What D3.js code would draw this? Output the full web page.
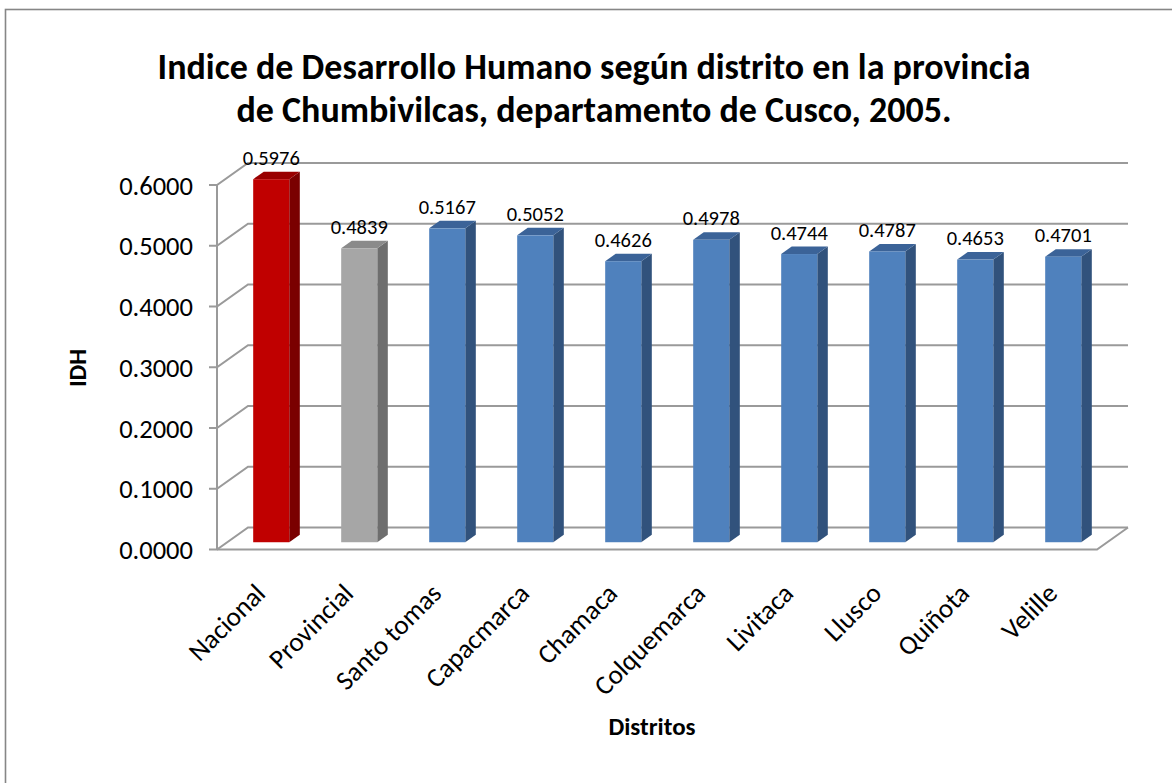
<!DOCTYPE html>
<html>
<head>
<meta charset="utf-8">
<script src="https://cdn.jsdelivr.net/npm/d3@7"></script>
<style>
  body { margin: 0; background: #fff; }
  svg { font-family: Calibri, Carlito, Lato, sans-serif; }
</style>
</head>
<body>
<div id="chart"></div>
<script>
var distritos = ['Nacional', 'Provincial', 'Santo tomas', 'Capacmarca', 'Chamaca',
                 'Colquemarca', 'Livitaca', 'Llusco', 'Quiñota', 'Velille'];
var idh = [0.5976, 0.4839, 0.5167, 0.5052, 0.4626, 0.4978, 0.4744, 0.4787, 0.4653, 0.4701];
var yTicks = [0, 0.1, 0.2, 0.3, 0.4, 0.5, 0.6];
var titleLines = ['Indice de Desarrollo Humano según distrito en la provincia',
                  'de Chumbivilcas, departamento de Cusco, 2005.'];

var width = 1172, height = 783;

// 3d depth of the plot box (offset of the back wall from the front plane)
var depthX = 31, depthY = -22;
var barFront = 0.33, barBack = 0.67;

// face colours per bar: [front, side, top]
var faceColors = {
  red:  ['#c00000', '#7a0000', '#990000'],
  gray: ['#a6a6a6', '#6e6e6e', '#8a8a8a'],
  blue: ['#4f81bd', '#31527c', '#3b6398']
};
function barColors(i) {
  if (i === 0) return faceColors.red;
  if (i === 1) return faceColors.gray;
  return faceColors.blue;
}

var svg = d3.select('#chart').append('svg')
  .attr('width', width)
  .attr('height', height);

// chart frame
svg.append('rect')
  .attr('x', 5.5).attr('y', 9.5)
  .attr('width', 1200).attr('height', 800)
  .attr('fill', 'none')
  .attr('stroke', '#868686')
  .attr('stroke-width', 1.6);

var x = d3.scaleBand()
  .domain(distritos)
  .range([217, 1097])
  .paddingInner(0.59)
  .paddingOuter(0.295);

var y = d3.scaleLinear()
  .domain([0, 0.6])
  .range([549.5, 185]);

var x0 = x.range()[0], x1 = x.range()[1];

// gridlines on the back wall + diagonal links to the front axis
var grid = svg.append('g')
  .attr('stroke', '#9a9a9a')
  .attr('stroke-width', 2)
  .attr('fill', 'none');

grid.selectAll('path.grid')
  .data(yTicks)
  .enter().append('path')
  .attr('class', 'grid')
  .attr('d', function(d) {
    var yy = y(d);
    return 'M' + (x0 - 8) + ',' + yy + 'H' + x0 +
      'L' + (x0 + depthX) + ',' + (yy + depthY) +
      'H' + (x1 + depthX);
  });

// floor front edge and right edge
grid.append('path')
  .attr('d', 'M' + x0 + ',' + y(0) + 'H' + x1 +
    'L' + (x1 + depthX) + ',' + (y(0) + depthY));

// vertical axis line
grid.append('path')
  .attr('d', 'M' + x0 + ',' + y(0.6) + 'V' + y(0));

// y tick labels
svg.append('g').selectAll('text')
  .data(yTicks)
  .enter().append('text')
  .attr('x', 193)
  .attr('y', function(d) { return y(d); })
  .attr('dy', '0.36em')
  .attr('text-anchor', 'end')
  .attr('font-size', 26.5)
  .attr('fill', '#000')
  .text(function(d) { return d3.format('.4f')(d); });

// bars
var bw = x.bandwidth();
var fdx = barFront * depthX, fdy = barFront * depthY;
var bdx = (barBack - barFront) * depthX, bdy = (barBack - barFront) * depthY;

var bars = svg.append('g').selectAll('g')
  .data(idh)
  .enter().append('g');

bars.each(function(d, i) {
  var g = d3.select(this);
  var cols = barColors(i);
  var left = x(distritos[i]) + fdx;
  var right = left + bw;
  var top = y(d) + fdy;
  var bottom = y(0) + fdy;

  // side
  g.append('path')
    .attr('d', 'M' + right + ',' + top +
      'L' + (right + bdx) + ',' + (top + bdy) +
      'L' + (right + bdx) + ',' + (bottom + bdy) +
      'L' + right + ',' + bottom + 'Z')
    .attr('fill', cols[1]);
  // top
  g.append('path')
    .attr('d', 'M' + left + ',' + top +
      'L' + (left + bdx) + ',' + (top + bdy) +
      'L' + (right + bdx) + ',' + (top + bdy) +
      'L' + right + ',' + top + 'Z')
    .attr('fill', cols[2]);
  // front
  g.append('rect')
    .attr('x', left)
    .attr('y', top)
    .attr('width', bw)
    .attr('height', bottom - top)
    .attr('fill', cols[0]);
});

// value labels
svg.append('g').selectAll('text')
  .data(idh)
  .enter().append('text')
  .attr('x', function(d, i) { return x(distritos[i]) + fdx + bw / 2; })
  .attr('y', function(d) { return y(d) + fdy + bdy - 7; })
  .attr('text-anchor', 'middle')
  .attr('font-size', 20.5)
  .attr('fill', '#000')
  .text(function(d) { return d3.format('.4f')(d); });

// category labels, rotated
svg.append('g').selectAll('text')
  .data(distritos)
  .enter().append('text')
  .attr('transform', function(d) {
    var cx = x(d) + bw / 2 + 6;
    return 'translate(' + cx + ',' + 595 + ') rotate(-45)';
  })
  .attr('text-anchor', 'end')
  .attr('font-size', 27)
  .attr('fill', '#000')
  .text(function(d) { return d; });

// axis titles
svg.append('text')
  .attr('transform', 'translate(86,368) rotate(-90)')
  .attr('text-anchor', 'middle')
  .attr('font-size', 25)
  .attr('font-weight', 'bold')
  .text('IDH');

svg.append('text')
  .attr('x', 652)
  .attr('y', 735)
  .attr('text-anchor', 'middle')
  .attr('font-size', 25)
  .attr('font-weight', 'bold')
  .text('Distritos');

// title
svg.append('g').selectAll('text')
  .data(titleLines)
  .enter().append('text')
  .attr('x', 594)
  .attr('y', function(d, i) { return 79 + i * 43; })
  .attr('text-anchor', 'middle')
  .attr('font-size', 36)
  .attr('font-weight', 'bold')
  .text(function(d) { return d; });
</script>
</body>
</html>
